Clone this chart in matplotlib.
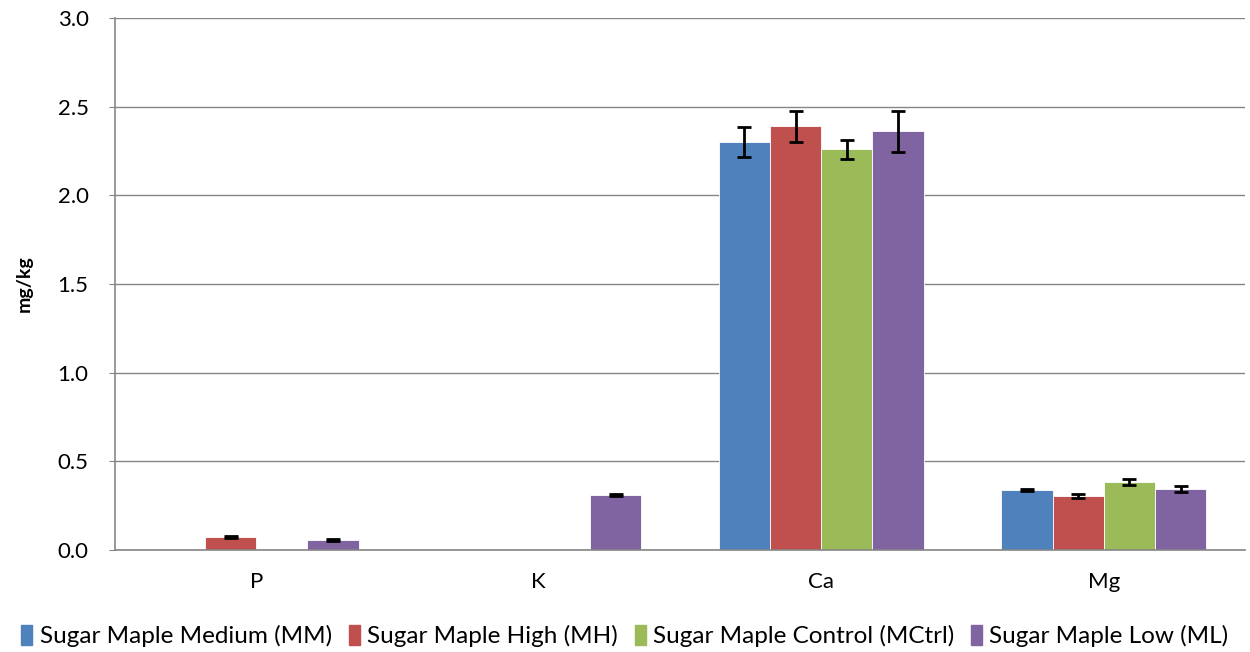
import numpy as np
import matplotlib.pyplot as plt
from matplotlib.patches import Patch

plt.rcParams['font.family'] = ['Lato', 'DejaVu Sans']

categories = ['P', 'K', 'Ca', 'Mg']
series = ['Sugar Maple Medium (MM)', 'Sugar Maple High (MH)',
          'Sugar Maple Control (MCtrl)', 'Sugar Maple Low (ML)']
colors = ['#4F81BD', '#C0504D', '#9BBB59', '#8064A2']

mm = [0.0, 0.0, 2.30, 0.338]
mh = [0.073, 0.0, 2.39, 0.305]
mctrl = [0.0, 0.0, 2.26, 0.383]
ml = [0.056, 0.31, 2.36, 0.344]

mm_err = [0.0, 0.0, 0.085, 0.006]
mh_err = [0.008, 0.0, 0.088, 0.012]
mctrl_err = [0.0, 0.0, 0.054, 0.015]
ml_err = [0.005, 0.005, 0.115, 0.018]

values = [mm, mh, mctrl, ml]
errors = [mm_err, mh_err, mctrl_err, ml_err]

fig = plt.figure(figsize=(12.5, 6.52), dpi=100)
ax = fig.add_axes([115 / 1250, 1 - 550 / 652, 1130 / 1250, 532 / 652])

x = np.arange(len(categories))
w = 0.725 / 4
for i, (vals, errs) in enumerate(zip(values, errors)):
    pos = x + (i - 1.5) * w
    ax.bar(pos, vals, width=w, color=colors[i], edgecolor='white', linewidth=0.6, zorder=2)
    show = np.array(errs) > 0
    ax.errorbar(pos[show], np.array(vals)[show], yerr=np.array(errs)[show], fmt='none',
                ecolor='black', elinewidth=2, capsize=5, capthick=2, zorder=3)

ax.set_xlim(-0.5, 3.5)
ax.set_ylim(0, 3.0)
ax.set_yticks(np.arange(0, 3.01, 0.5))
ax.set_yticklabels([f'{v:.1f}' for v in np.arange(0, 3.01, 0.5)])
ax.set_xticks(x)
ax.set_xticklabels(categories)
ax.tick_params(axis='x', length=0, pad=16, labelsize=16)
ax.tick_params(axis='y', length=4, color='#868686', labelsize=16, pad=15)
ax.yaxis.grid(True, color='#868686', linewidth=1, zorder=0)
ax.set_axisbelow(True)
for s in ['top', 'right']:
    ax.spines[s].set_visible(False)
for s in ['left', 'bottom']:
    ax.spines[s].set_color('#868686')
    ax.spines[s].set_linewidth(1.2)
ax.set_ylabel('mg/kg', fontsize=14, fontweight='bold', labelpad=18)

handles = [Patch(color=c) for c in colors]
fig.legend(handles, series, loc='center', bbox_to_anchor=(0.5, 1 - 636 / 652), ncol=4,
           frameon=False, fontsize=17.5, handlelength=0.45, handleheight=0.9,
           handletextpad=0.3, columnspacing=0.7)

fig.savefig('out.png', dpi=100)
